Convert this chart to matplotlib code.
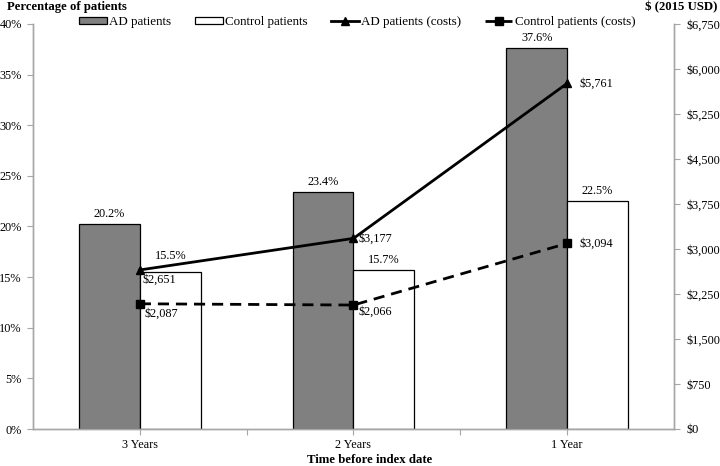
import matplotlib
matplotlib.use("Agg")
import matplotlib.pyplot as plt
from matplotlib.ticker import FuncFormatter, MultipleLocator, FixedLocator
import numpy as np

categories = ["3 Years", "2 Years", "1 Year"]
ad_pct = [20.2, 23.4, 37.6]
ctrl_pct = [15.5, 15.7, 22.5]
ad_cost = [2651, 3177, 5761]
ctrl_cost = [2087, 2066, 3094]

plt.rcParams['font.family'] = ['Liberation Serif', 'DejaVu Serif']
FS = 8.8     # tick and data labels
FSL = 9.4    # legend
FSB = 9.2    # bold titles

fig = plt.figure(figsize=(7.2, 4.66), dpi=100)
W, H = 720, 466
L, R, T, B = 33, 674, 24, 429
ax = fig.add_axes([L / W, 1 - B / H, (R - L) / W, (B - T) / H])
ax2 = ax.twinx()

x = np.arange(len(categories))
bw = 0.285
gray = "#a6a6a6"

b1 = ax.bar(x - bw / 2, ad_pct, bw, color="#808080", edgecolor="black", linewidth=0.9, label="AD patients", zorder=2)
b2 = ax.bar(x + bw / 2, ctrl_pct, bw, color="white", edgecolor="black", linewidth=0.9, label="Control patients", zorder=2)

ax.set_xlim(-0.5, 2.5)
ax.set_ylim(0, 40)
ax.yaxis.set_major_locator(MultipleLocator(5))
ax.yaxis.set_major_formatter(FuncFormatter(lambda v, p: f"{v:.0f}%"))
ax.set_xticks(x)
ax.set_xticklabels(categories, fontsize=FS)
ax.xaxis.set_minor_locator(FixedLocator([0.5, 1.5]))

ax2.set_ylim(0, 6750)
ax2.yaxis.set_major_locator(MultipleLocator(750))
ax2.yaxis.set_major_formatter(FuncFormatter(lambda v, p: f"${v:,.0f}"))

for a in (ax, ax2):
    a.spines['top'].set_visible(False)
    for s in ('left', 'right', 'bottom'):
        a.spines[s].set_color(gray)
        a.spines[s].set_linewidth(1.0)
    a.tick_params(axis='both', which='both', colors=gray, labelcolor='black', labelsize=FS, length=4, width=0.8)
ax.tick_params(axis='y', pad=4)
ax2.tick_params(axis='y', pad=5)
ax.tick_params(axis='x', pad=3.5)

l1, = ax2.plot(x, ad_cost, color="black", linewidth=2, marker="^", markersize=6, label="AD patients (costs)", zorder=3)
l2, = ax2.plot(x, ctrl_cost, color="black", linewidth=2, linestyle=(0, (4, 2.5)), marker="s", markersize=6, label="Control patients (costs)", zorder=3)

# percentage labels
for i, v in enumerate(ad_pct):
    ax.annotate(f"{v}%", (x[i] - bw / 2, v), xytext=(0, 10), textcoords="offset pixels", ha="center", va="center", fontsize=FS)
ctrl_off = [16, 10, 10]
for i, v in enumerate(ctrl_pct):
    ax.annotate(f"{v}%", (x[i] + bw / 2, v), xytext=(0, ctrl_off[i]), textcoords="offset pixels", ha="center", va="center", fontsize=FS)

# cost labels
ad_lab_off = [(3, -10), (5, 0), (12, 0)]
ctrl_lab_off = [(5, -10), (5, -7), (12, 0)]
for i, v in enumerate(ad_cost):
    ax2.annotate(f"${v:,}", (x[i], v), xytext=ad_lab_off[i], textcoords="offset pixels", ha="left", va="center", fontsize=FS, zorder=5)
for i, v in enumerate(ctrl_cost):
    ax2.annotate(f"${v:,}", (x[i], v), xytext=ctrl_lab_off[i], textcoords="offset pixels", ha="left", va="center", fontsize=FS, zorder=5)

fig.text(7 / W, 1 - 7 / H, "Percentage of patients", fontsize=FSB, fontweight="bold", ha="left", va="center")
fig.text(717 / W, 1 - 7 / H, "$ (2015 USD)", fontsize=FSB, fontweight="bold", ha="right", va="center")
fig.text(370 / W, 1 - 460 / H, "Time before index date", fontsize=FSB, fontweight="bold", ha="center", va="center")

leg = fig.legend(handles=[b1, b2, l1, l2], loc="center", bbox_to_anchor=(357.5 / W, 1 - 22 / H), ncol=4,
                 frameon=False, fontsize=FSL, handlelength=2.1, handletextpad=0.2, columnspacing=1.8,
                 handleheight=0.5, borderaxespad=0, borderpad=0)

fig.savefig("out.png", dpi=100)
